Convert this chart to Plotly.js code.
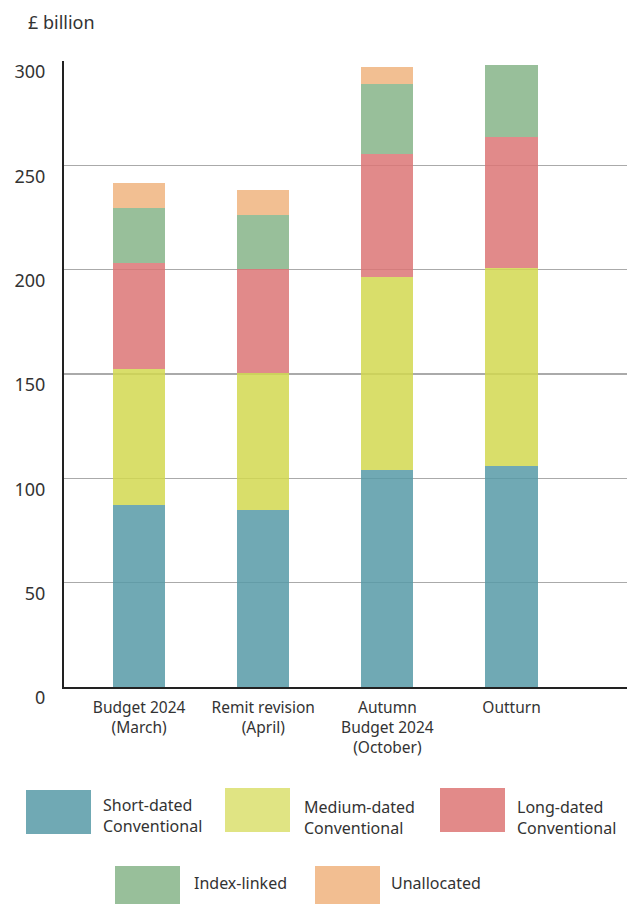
<!DOCTYPE html>
<html>
<head>
<meta charset="utf-8">
<script src="https://cdn.plot.ly/plotly-3.0.1.min.js"></script>
<style>html,body{margin:0;padding:0;background:#fff;}#chart{width:627px;height:904px;}</style>
</head>
<body>
<div id="chart"></div>
<script>
// ---- Data ----
const categories = ['Budget 2024<br>(March)', 'Remit revision<br>(April)', 'Autumn<br>Budget 2024<br>(October)', 'Outturn'];
const shortDated  = [87.2, 84.8, 104.0, 105.9];
const mediumDated = [65.2, 65.7, 92.5, 94.9];
const longDated   = [50.8, 49.8, 58.9, 62.6];
const indexLinked = [26.3, 25.9, 33.5, 34.6];
const unallocated = [12.0, 11.9, 8.2, 0];
const seriesNames = ['Short-dated<br>Conventional', 'Medium-dated<br>Conventional', 'Long-dated<br>Conventional', 'Index-linked', 'Unallocated'];
const yTickVals = [0, 50, 100, 150, 200, 250, 300];
const yTickText = ['0', '50', '100', '150', '200', '250', '300'];

// ---- Styling ----
const barColors = ['rgba(87,154,167,0.85)', 'rgba(210,216,80,0.85)', 'rgba(220,118,117,0.85)', 'rgba(134,180,136,0.85)', 'rgba(240,180,127,0.85)'];
const swatchColors = ['#70a9b4', '#e0e483', '#e28a89', '#98bf9a', '#f2be91'];
const FONT = '"Noto Sans", "Open Sans", sans-serif';
const W = 627, H = 904, L = 64, R = 0, T = 61, B = 217;
const pw = W - L - R, ph = H - T - B;
const px = x => (x - L) / pw;
const py = y => (H - B - y) / ph;

const allSeries = [shortDated, mediumDated, longDated, indexLinked, unallocated];
const traces = allSeries.map((vals, i) => ({
  type: 'bar',
  x: categories,
  y: vals,
  name: seriesNames[i],
  width: 0.42,
  marker: {color: barColors[i], line: {width: 0}},
  hoverinfo: 'skip',
  showlegend: false
}));

// Custom legend (two rows)
const legendItems = [
  {i: 0, sx: 26,  sy0: 790, sy1: 834, tx: 101, ty: 815},
  {i: 1, sx: 225, sy0: 788, sy1: 832, tx: 302, ty: 817},
  {i: 2, sx: 440, sy0: 788, sy1: 832, tx: 515, ty: 817},
  {i: 3, sx: 115, sy0: 866, sy1: 904, tx: 192, ty: 883},
  {i: 4, sx: 315, sy0: 866, sy1: 904, tx: 389, ty: 883}
];
const shapes = legendItems.map(it => ({
  type: 'rect', xref: 'paper', yref: 'paper',
  x0: px(it.sx), x1: px(it.sx + 65), y0: py(it.sy1), y1: py(it.sy0),
  fillcolor: swatchColors[it.i], line: {width: 0}
}));
const annotations = legendItems.map(it => ({
  xref: 'paper', yref: 'paper', x: px(it.tx), y: py(it.ty),
  xanchor: 'left', yanchor: 'middle', align: 'left', showarrow: false,
  text: seriesNames[it.i], font: {family: FONT, size: 16, color: '#333'}
}));
annotations.push({
  xref: 'paper', yref: 'paper', x: px(26), y: py(22), xanchor: 'left', yanchor: 'middle',
  showarrow: false, text: '£ billion', font: {family: FONT, size: 18, color: '#333'}
});

const layout = {
  width: W, height: H,
  margin: {l: L, r: R, t: T, b: B, pad: 0},
  paper_bgcolor: '#fff', plot_bgcolor: '#fff',
  barmode: 'stack',
  showlegend: false,
  font: {family: FONT, color: '#333'},
  xaxis: {
    type: 'category', range: [-0.605, 3.93],
    showline: true, linecolor: '#222', linewidth: 2,
    showgrid: false, ticks: '', ticklabelstandoff: 5,
    tickfont: {family: FONT, size: 15.5, color: '#333'},
    fixedrange: true
  },
  yaxis: {
    range: [0, 300], tickvals: yTickVals, ticktext: yTickText,
    showline: true, linecolor: '#222', linewidth: 2,
    showgrid: true, gridcolor: '#aaaaaa', gridwidth: 1.5,
    zeroline: false, ticks: '', ticklabelstandoff: 13, ticklabelshift: 11,
    tickfont: {family: FONT, size: 18, color: '#333'},
    fixedrange: true
  },
  shapes: shapes,
  annotations: annotations
};

Plotly.newPlot('chart', traces, layout, {displayModeBar: false, staticPlot: true});
</script>
</body>
</html>
